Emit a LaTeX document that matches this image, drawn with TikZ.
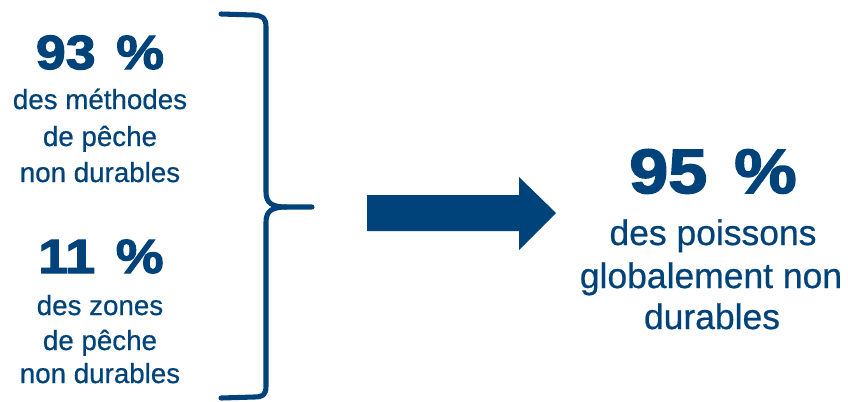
\documentclass[tikz,border=0pt]{standalone}
\usepackage{fontspec}
\setmainfont{Liberation Sans}[FakeBold=0.6]
\newfontfamily\numfont{Liberation Sans}[BoldFeatures={FakeStretch=1.12,FakeBold=2.5}]
\definecolor{navy}{RGB}{0,66,122}
\begin{document}
\begin{tikzpicture}[x=0.75pt,y=-0.75pt,
  bignum/.style={anchor=base,inner sep=0pt,text=navy,font=\numfont\bfseries\fontsize{36pt}{40pt}\selectfont},
  hugenum/.style={anchor=base,inner sep=0pt,text=navy,font=\numfont\bfseries\fontsize{47pt}{52pt}\selectfont},
  lefttxt/.style={anchor=base,inner sep=0pt,text=navy,font=\fontsize{20.8pt}{25pt}\selectfont},
  righttxt/.style={anchor=base,inner sep=0pt,text=navy,font=\fontsize{26.6pt}{32pt}\selectfont},
  bracestroke/.style={draw=navy,line width=3.8pt,line cap=round,line join=round}]
\useasboundingbox (0,0) rectangle (848,401);
% left block 1
\node[bignum] (n1) at (100,69) {93\hspace{0.12em} \%};
\node[lefttxt] (t1a) at (100,109) {des méthodes};
\node[lefttxt] (t1b) at (100,146) {de pêche};
\node[lefttxt] (t1c) at (100,182) {non durables};
% left block 2
\node[bignum] (n2) at (101,273) {11\hspace{0.12em} \%};
\node[lefttxt] (t2a) at (100,315) {des zones};
\node[lefttxt] (t2b) at (100,350) {de pêche};
\node[lefttxt] (t2c) at (100,383) {non durables};
% right block
\node[hugenum] (n3) at (713,193) {95\hspace{0.12em} \%};
\node[righttxt] (t3a) at (713,245) {des poissons};
\node[righttxt] (t3b) at (711,288) {globalement non};
\node[righttxt] (t3c) at (712,329) {durables};
% brace
\coordinate (btop) at (221,14);
\coordinate (bmid) at (312,207);
\coordinate (bbot) at (221,398);
\draw[bracestroke] (btop) -- (254,15) .. controls (263,16) and (266,18) .. (266,27)
  -- (266,192) .. controls (266,203) and (272,207) .. (286,207) -- (bmid);
\draw[bracestroke] (286,207) .. controls (272,207) and (266,211) .. (266,222)
  -- (266,386) .. controls (266,395) and (263,397) .. (254,397) -- (bbot);
% block arrow
\fill[navy] (367,195) -- (519,195) -- (519,177) -- (556,213) -- (519,250) -- (519,231) -- (367,231) -- cycle;
\end{tikzpicture}
\end{document}
